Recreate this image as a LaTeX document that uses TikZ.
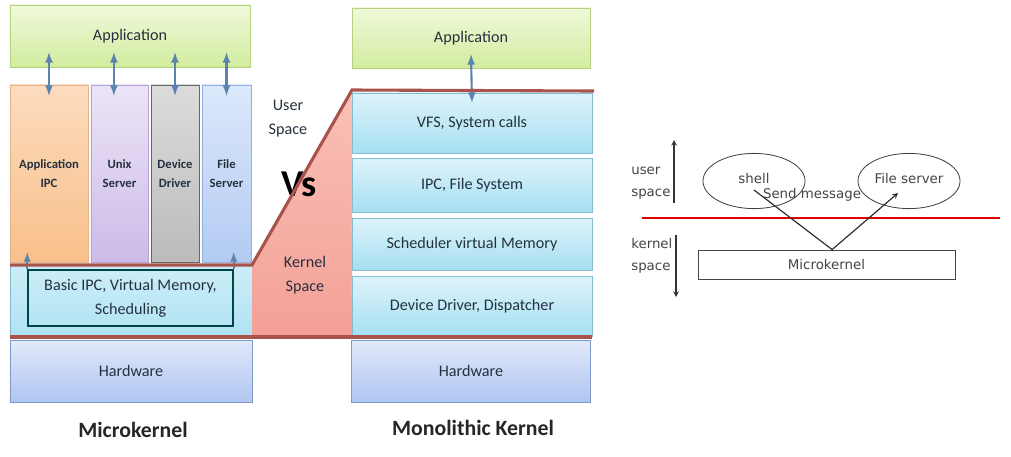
\documentclass[tikz,border=0pt]{standalone}
\usepackage{fontspec}
\setmainfont{Carlito}
\newfontfamily\diagfont{DejaVu Sans}
\usetikzlibrary{arrows, shapes, positioning, calc}

\definecolor{txt}{HTML}{25313E}
\definecolor{rim}{HTML}{A8534B}
\definecolor{linkc}{HTML}{5A83AE}
\definecolor{apptop}{HTML}{F0F9DC}
\definecolor{appbot}{HTML}{D2EC9E}
\definecolor{apprim}{HTML}{B5D27E}
\definecolor{cyantop}{HTML}{DDF3FB}
\definecolor{cyanbot}{HTML}{A6DFF1}
\definecolor{cyanrim}{HTML}{86BCD2}
\definecolor{hwtop}{HTML}{E2E9FB}
\definecolor{hwbot}{HTML}{AFC5F0}
\definecolor{hwrim}{HTML}{7F99C9}
\definecolor{salmtop}{HTML}{F9C0B7}
\definecolor{salmbot}{HTML}{F4A096}
\definecolor{ipctop}{HTML}{FCDCBE}
\definecolor{ipcbot}{HTML}{F8BF8A}
\definecolor{ipcrim}{HTML}{E2B58C}
\definecolor{unixtop}{HTML}{ECE4F7}
\definecolor{unixbot}{HTML}{CDBBE8}
\definecolor{unixrim}{HTML}{B3A2D3}
\definecolor{devtop}{HTML}{DCDCDC}
\definecolor{devbot}{HTML}{BBBBBB}
\definecolor{fstop}{HTML}{DCE8FB}
\definecolor{fsbot}{HTML}{B3CBF2}
\definecolor{fsrim}{HTML}{93B1DD}
\definecolor{grey}{HTML}{444444}

\tikzset{
  box/.style={draw, rectangle, inner sep=2pt, align=center, text=txt,
    font=\fontsize{11.5}{17}\selectfont},
  appbox/.style={box, draw=apprim, top color=apptop, bottom color=appbot},
  layer/.style={box, draw=cyanrim, top color=cyantop, bottom color=cyanbot,
    minimum width=6cm},
  hwbox/.style={box, draw=hwrim, top color=hwtop, bottom color=hwbot,
    minimum height=1.55cm},
  colbox/.style={box, minimum height=4.425cm,
    font=\bfseries\fontsize{9}{14}\selectfont},
  dbl/.style={latex-latex, linkc, line width=1.5pt},
  rimline/.style={rim, line width=2.2pt},
  heading/.style={text=black!85, font=\bfseries\fontsize{15.5}{18}\selectfont},
  plain/.style={text=txt, align=center, font=\fontsize{11.5}{17}\selectfont},
  ell/.style={draw=grey, ellipse, line width=0.6pt, inner sep=0pt,
    minimum width=2.55cm, minimum height=1.38cm, text=grey,
    font=\diagfont\fontsize{9.5}{11}\selectfont},
  side/.style={text=grey, align=left, inner sep=0pt,
    font=\diagfont\fontsize{9.5}{15.5}\selectfont},
}

\begin{document}
\begin{tikzpicture}[x=0.025cm, y=-0.025cm]
\useasboundingbox (0,0) rectangle (1011,456);

% ---- microkernel
\node[appbox, minimum width=6cm, minimum height=1.55cm] (appL) at (130,36) {Application};

\node[colbox, draw=ipcrim, top color=ipctop, bottom color=ipcbot, minimum width=1.95cm] (ipc) at (49,173.5) {Application\\IPC};
\node[colbox, draw=unixrim, top color=unixtop, bottom color=unixbot, minimum width=1.425cm] (unix) at (119.5,173.5) {Unix\\Server};
\node[colbox, draw=black!60, top color=devtop, bottom color=devbot, minimum width=1.2cm] (dev) at (175,173.5) {Device\\Driver};
\node[colbox, draw=fsrim, top color=fstop, bottom color=fsbot, minimum width=1.225cm] (fsl) at (226.5,173.5) {File\\Server};

\draw[dbl] ([yshift=0.375cm]appL.south -| ipc.center) -- ([yshift=-0.275cm]ipc.north);
\draw[dbl] ([yshift=0.375cm,xshift=-0.14cm]appL.south -| unix.center) -- ([yshift=-0.275cm,xshift=-0.14cm]unix.north);
\draw[dbl] ([yshift=0.375cm]appL.south -| dev.center) -- ([yshift=-0.275cm]dev.north);
\draw[dbl] ([yshift=0.375cm]appL.south -| fsl.center) -- ([yshift=-0.275cm]fsl.north);

\node[box, draw=cyanrim, top color=cyantop!70!cyanbot, bottom color=cyanbot!80!cyantop, minimum width=6.05cm, minimum height=1.75cm] (kernL) at (131,300) {};
\node[box, draw=teal!55!black, line width=1pt, minimum width=5.125cm, minimum height=1.4cm] (basic) at (130.5,298) {Basic IPC, Virtual Memory,\\Scheduling};
\draw[-latex, linkc, line width=1.3pt] (basic.north west) -- ++(0,-17);
\draw[-latex, linkc, line width=1.3pt] (basic.north east) -- ++(0,-17);

\node[hwbox, minimum width=6.05cm] (hwL) at (131,371) {Hardware};
\node[heading] (titleL) at (133,430) {Microkernel};

% ---- user / kernel split
\shade[top color=salmtop, bottom color=salmbot] (252,265) -- (352,90) -- (352,337) -- (252,337) -- cycle;

\node[plain] (uspace) at (288,119) {User\\Space};
\node[plain] (kspace) at (305,275) {Kernel\\Space};
\node[text=black, font=\bfseries\fontsize{27}{27}\selectfont] (vs) at (299,184) {Vs};

% ---- monolithic kernel
\node[appbox, minimum width=5.95cm, minimum height=1.5cm] (appR) at (471,38) {Application};
\node[layer, minimum height=1.5cm] (vfs) at (472,123) {VFS, System calls};
\node[layer, minimum height=1.35cm] (ipcfs) at (472,185) {IPC, File System};
\node[layer, minimum height=1.3cm] (sched) at (472,244) {Scheduler virtual Memory};
\node[layer, minimum height=1.5cm] (drv) at (472,306) {Device Driver, Dispatcher};
\node[hwbox, minimum width=5.975cm] (hwR) at (471,371) {Hardware};
\node[heading] (titleR) at (473,428) {Monolithic Kernel};

\draw[dbl] ([yshift=0.35cm]appR.south) -- ([yshift=-0.25cm]vfs.north);

\draw[rimline] (10,265) -- (252,265) -- (352,90) -- (594,91);
\draw[rimline] (10,337) -- (592,337);

% ---- message passing
\coordinate (redW) at (642,218);
\coordinate (redE) at (1000,218);
\draw[red!90!black, line width=1pt] (redW) -- (redE);

\node[ell] (shell) at (754,181) {\raisebox{3pt}{shell}};
\node[ell] (fsrv) at (909,181) {\raisebox{3pt}{File server}};
\node[draw=grey, line width=0.6pt, minimum width=6.425cm, minimum height=0.725cm, inner sep=0pt, text=grey,
  font=\diagfont\fontsize{9.5}{11}\selectfont] (mk) at (826.5,264.5) {Microkernel};

\draw[black!85, line width=0.8pt, -stealth] ([yshift=-0.225cm]shell.center) -- ([xshift=0.14cm]mk.north)
  -- ([shift={(-0.275cm,-0.3cm)}]fsrv.center);
\node[text=grey, inner sep=0pt, font=\diagfont\fontsize{9.5}{11}\selectfont] (sendmsg) at (812,195) {Send message};

\node[side, anchor=west] (usr) at (631,183) {user\\space};
\node[side, anchor=west] (krn) at (631,256) {kernel\\space};
\coordinate (upB) at (674,203);
\coordinate (upT) at (674,140);
\coordinate (dnT) at (676,235);
\coordinate (dnB) at (676,297);
\draw[black!80, line width=0.8pt, -stealth] (upB) -- (upT);
\draw[black!80, line width=0.8pt, -stealth] (dnT) -- (dnB);

\end{tikzpicture}
\end{document}
